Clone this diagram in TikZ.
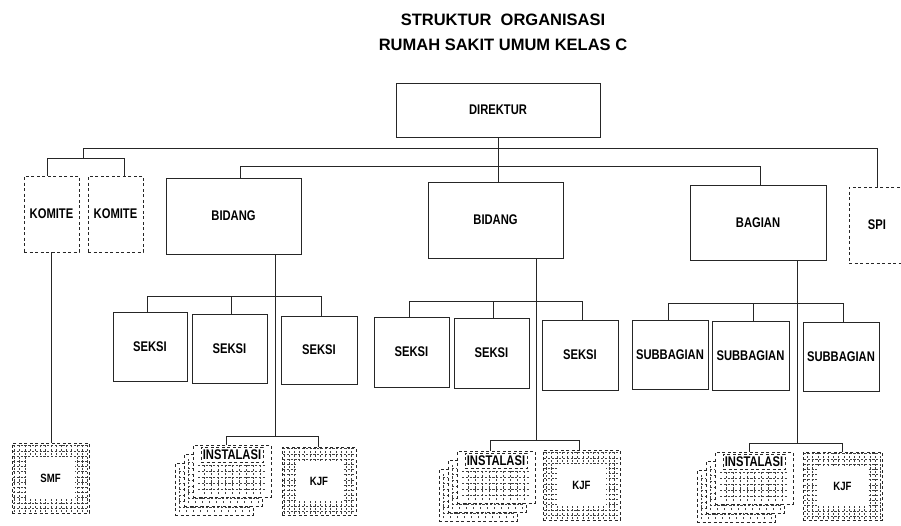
\documentclass[tikz,border=0pt]{standalone}
\usepackage{fontspec}
\setmainfont{Liberation Sans}
\newfontfamily\labfont[FakeStretch=0.8]{Liberation Sans}
\begin{document}
\begin{tikzpicture}[x=1pt,y=-1pt,
  ln/.style={line width=0.85pt, draw=black!85},
  box/.style={draw=black!85, line width=0.85pt, fill=white, inner sep=0pt,
    font=\labfont\bfseries\fontsize{14}{16}\selectfont},
  dbox/.style={box, dash pattern=on 3pt off 2.5pt},
  tex/.style={line width=0.5pt, draw=black!75, dash pattern=on 2.2pt off 1.6pt},
  framebox/.style={dbox, font=\labfont\bfseries\fontsize{12}{14}\selectfont,
    path picture={
      \draw[tex] ([shift={(1pt,1pt)}]path picture bounding box.south west) grid[step=5.2pt]
        ([shift={(-1pt,-1pt)}]path picture bounding box.north east);
      \fill[white] ([shift={(14pt,14pt)}]path picture bounding box.south west) rectangle
        ([shift={(-14pt,-14pt)}]path picture bounding box.north east);
    }},
  instf/.style={dbox, minimum width=78pt, minimum height=52pt,
    path picture={
      \draw[tex] ([shift={(5pt,3pt)}]path picture bounding box.south west) grid[xstep=7pt, ystep=6pt]
        ([shift={(-5pt,-19pt)}]path picture bounding box.north east);
    }},
  instb/.style={dbox, minimum width=78pt, minimum height=52pt,
    path picture={
      \draw[tex] ([shift={(4pt,3pt)}]path picture bounding box.south west) grid[xstep=7pt, ystep=6pt]
        ([shift={(-4pt,-4pt)}]path picture bounding box.north east);
    }},
  instl/.style={dbox, minimum width=62pt, minimum height=15pt},
  ttl/.style={font=\bfseries\fontsize{16.5}{18}\selectfont, inner sep=0pt}
]
\useasboundingbox (0,0) rectangle (901,525);
\clip (0,0) rectangle (901,525);

% titles
\node[ttl] (t1) at (503,20) {STRUKTUR\ \ ORGANISASI};
\node[ttl] (t2) at (503,45) {RUMAH SAKIT UMUM KELAS C};

% top level
\node[box, minimum width=204pt, minimum height=54pt] (dir) at (498,110) {DIREKTUR};
\node[dbox, minimum width=55pt, minimum height=76pt] (kom1) at (51.5,214) {KOMITE};
\node[dbox, minimum width=55pt, minimum height=76pt] (kom2) at (115.5,214) {KOMITE};
\node[box, minimum width=135pt, minimum height=76pt] (bid1) at (233.5,216) {BIDANG};
\node[box, minimum width=135pt, minimum height=76pt] (bid2) at (495.5,220) {BIDANG};
\node[box, minimum width=136pt, minimum height=75pt] (bag) at (758,222.5) {BAGIAN};
\node[dbox, minimum width=56pt, minimum height=76pt] (spi) at (877,225) {SPI};

% seksi row 1
\node[box, minimum width=74pt, minimum height=69pt] (s1) at (150,346.5) {SEKSI};
\node[box, minimum width=75pt, minimum height=69pt] (s2) at (229.5,348.5) {SEKSI};
\node[box, minimum width=76pt, minimum height=68pt] (s3) at (319,350) {SEKSI};
% seksi row 2
\node[box, minimum width=75pt, minimum height=70pt] (t1b) at (411.5,352) {SEKSI};
\node[box, minimum width=75pt, minimum height=70pt] (t2b) at (491.5,353) {SEKSI};
\node[box, minimum width=76pt, minimum height=70pt] (t3b) at (580,355) {SEKSI};
% subbagian
\node[box, minimum width=76pt, minimum height=69pt] (u1) at (670,354.5) {SUBBAGIAN};
\node[box, minimum width=77pt, minimum height=69pt] (u2) at (750.5,355.5) {SUBBAGIAN};
\node[box, minimum width=76pt, minimum height=69pt] (u3) at (841,356.5) {SUBBAGIAN};

% bottom row
\node[framebox, minimum width=77pt, minimum height=70pt] (smf) at (50.5,478) {SMF};
\node[framebox, minimum width=74pt, minimum height=68pt] (kjf1) at (319,481) {KJF};
\node[framebox, minimum width=77pt, minimum height=70pt] (kjf2) at (581.5,485) {KJF};
\node[framebox, minimum width=79pt, minimum height=68pt] (kjf3) at (842.5,486) {KJF};

\node[instb] (ins1c) at (214,489) {};
\node[instb] (ins1b) at (223,480) {};
\node[instf] (ins1f) at (232,471) {};
\node[instl, anchor=north] (ins1l) at ([yshift=-2pt]ins1f.north) {INSTALASI};

\node[instb] (ins2c) at (478,495) {};
\node[instb] (ins2b) at (487,486) {};
\node[instf] (ins2f) at (496,477) {};
\node[instl, anchor=north] (ins2l) at ([yshift=-2pt]ins2f.north) {INSTALASI};

\node[instb] (ins3c) at (736,496) {};
\node[instb] (ins3b) at (745,487) {};
\node[instf] (ins3f) at (754,478) {};
\node[instl, anchor=north] (ins3l) at ([yshift=-2pt]ins3f.north) {INSTALASI};

% connectors: top
\coordinate (a1) at (83,148);
\coordinate (a2) at (877,148);
\coordinate (k0) at (83,158);
\coordinate (k1) at (47,158);
\coordinate (k2) at (124,158);
\coordinate (b1) at (240,166);
\coordinate (b2) at (760,166);
\draw[ln] (dir.south) -- (dir.south |- bid2.north);
\draw[ln] (a1) -- (a2) -- (a2 |- spi.north);
\draw[ln] (a1) -- (k0);
\draw[ln] (k1 |- kom1.north) -- (k1) -- (k2) -- (k2 |- kom2.north);
\draw[ln] (b1 |- bid1.north) -- (b1) -- (b2) -- (b2 |- bag.north);

% komite to SMF
\draw[ln] (kom1.south) -- (kom1.south |- smf.north);

% bidang 1 branch
\coordinate (sa) at (147,296);
\coordinate (sb) at (231,296);
\coordinate (sc) at (321,296);
\coordinate (i1) at (275,436);
\coordinate (i1a) at (226,436);
\coordinate (i1b) at (318,436);
\draw[ln] (sa |- s1.north) -- (sa) -- (sc) -- (sc |- s3.north);
\draw[ln] (sb) -- (sb |- s2.north);
\draw[ln] (i1 |- bid1.south) -- (i1);
\draw[ln] (i1a |- ins1f.north) -- (i1a) -- (i1b) -- (i1b |- kjf1.north);

% bidang 2 branch
\coordinate (ta) at (409,301);
\coordinate (tb) at (493,301);
\coordinate (tc) at (582,301);
\coordinate (i2) at (536,440);
\coordinate (i2a) at (490,440);
\coordinate (i2b) at (579,440);
\draw[ln] (ta |- t1b.north) -- (ta) -- (tc) -- (tc |- t3b.north);
\draw[ln] (tb) -- (tb |- t2b.north);
\draw[ln] (i2 |- bid2.south) -- (i2);
\draw[ln] (i2a |- ins2f.north) -- (i2a) -- (i2b) -- (i2b |- kjf2.north);

% bagian branch
\coordinate (ua) at (668,303);
\coordinate (ub) at (753,303);
\coordinate (uc) at (843,303);
\coordinate (i3) at (797,443);
\coordinate (i3a) at (749,443);
\coordinate (i3b) at (842,443);
\draw[ln] (ua |- u1.north) -- (ua) -- (uc) -- (uc |- u3.north);
\draw[ln] (ub) -- (ub |- u2.north);
\draw[ln] (i3 |- bag.south) -- (i3);
\draw[ln] (i3a |- ins3f.north) -- (i3a) -- (i3b) -- (i3b |- kjf3.north);
\end{tikzpicture}
\end{document}
